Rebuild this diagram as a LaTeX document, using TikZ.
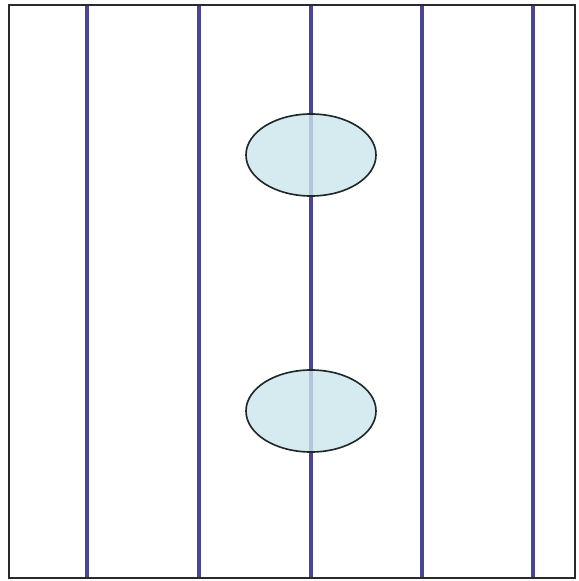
\documentclass[tikz,border=0pt]{standalone}
\usepackage{xcolor}
\usepackage{tikz}
\usetikzlibrary{shapes.geometric}
\definecolor{Frame}{HTML}{2A2A2A}
\definecolor{Rail}{HTML}{4A4596}
\definecolor{Cell}{HTML}{CCE6EC}
\definecolor{Rim}{HTML}{1E2A2A}

\begin{document}
\begin{tikzpicture}[x=0.03cm,y=-0.03cm,
  rail/.style={Rail,line width=3.2pt},
  cell/.style={ellipse,draw=Rim,line width=1.4pt,fill=Cell,fill opacity=0.8,
    minimum width=3.9cm,minimum height=2.46cm,inner sep=0pt}]
  \useasboundingbox (0,0) rectangle (578,581);
  \fill[white] (0,0) rectangle (578,581);
  % rails
  \foreach \xr in {87,199,311,422,533}
    \draw[rail] (\xr,5) -- (\xr,578);
  % frame
  \draw[Frame,line width=1.8pt] (9,5) rectangle (575,578);
  % cells on the middle rail
  \node[cell] (top) at (311,155) {};
  \node[cell] (bottom) at (311,411) {};
\end{tikzpicture}
\end{document}
